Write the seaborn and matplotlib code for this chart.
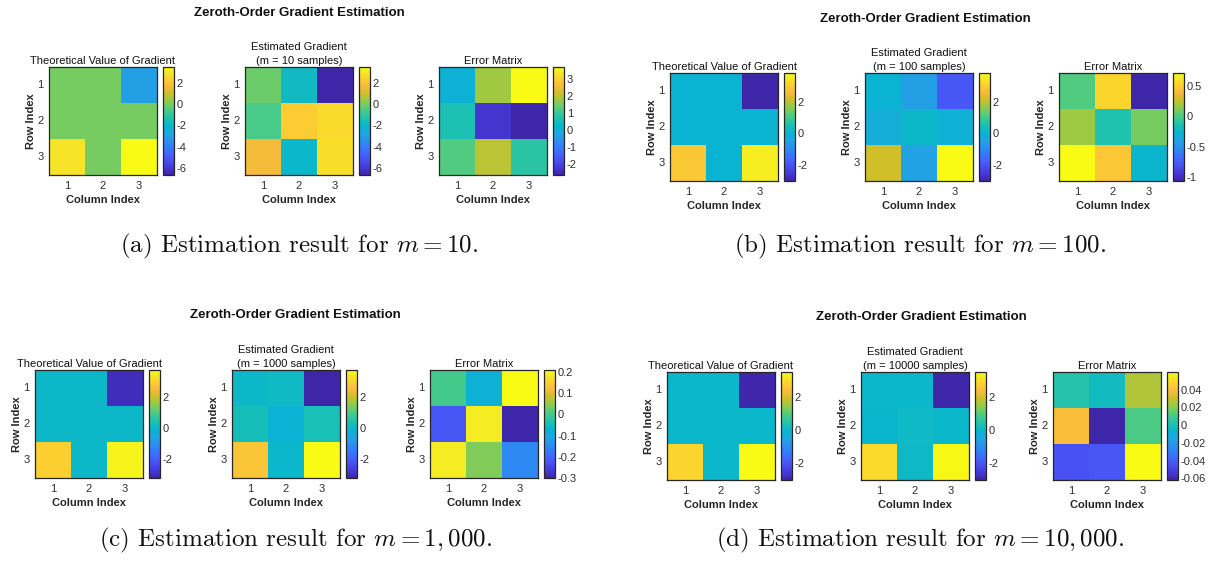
import numpy as np
import pandas as pd
import matplotlib
matplotlib.use("Agg")
import matplotlib.pyplot as plt
from matplotlib.colors import LinearSegmentedColormap
from matplotlib.ticker import FormatStrFormatter
import seaborn as sns

# In[] data
rows = [1, 2, 3]
cols = [1, 2, 3]

theory = [[0.0, 0.0, -3.0],
          [0.0, 0.0, 0.0],
          [2.9, 0.0, 3.55]]

est_m10 = [[-0.1, -1.8, -6.7],
           [-0.6, 2.3, 2.65],
           [1.7, -2.0, 2.75]]
est_m100 = [[-0.02, -0.55, -1.93],
            [-0.18, 0.14, -0.1],
            [2.18, -0.47, 3.81]]
est_m1000 = [[0.0, 0.08, -3.21],
             [0.22, -0.19, 0.3],
             [2.71, -0.04, 3.70]]
est_m10000 = [[-0.003, 0.003, -3.026],
              [-0.04, 0.062, -0.011],
              [2.945, 0.043, 3.49]]

sample_sizes = [10, 100, 1000, 10000]
panel_letters = ["a", "b", "c", "d"]
caption_m = ["10", "100", "1,000", "10,000"]

grad_ticks = [[-6, -4, -2, 0, 2], [-2, 0, 2], [-2, 0, 2], [-2, 0, 2]]
err_ticks = [[-2, -1, 0, 1, 2, 3],
             [-1, -0.5, 0, 0.5],
             [-0.3, -0.2, -0.1, 0, 0.1, 0.2],
             [-0.06, -0.04, -0.02, 0, 0.02, 0.04]]

# MATLAB parula, approximated from a few anchors
parula_anchors = [(0.2422, 0.1504, 0.6603), (0.2706, 0.2147, 0.8364),
                  (0.2813, 0.3006, 0.9414), (0.2699, 0.3892, 0.9906),
                  (0.1963, 0.4847, 0.9892), (0.1687, 0.5703, 0.9359),
                  (0.1248, 0.6459, 0.8883), (0.0297, 0.7082, 0.8163),
                  (0.0964, 0.7500, 0.7120), (0.2161, 0.7843, 0.5923),
                  (0.3909, 0.8029, 0.4354), (0.6174, 0.7876, 0.2612),
                  (0.8203, 0.7498, 0.1535), (0.9728, 0.7298, 0.2394),
                  (0.9892, 0.8136, 0.1885), (0.9597, 0.9135, 0.1423),
                  (0.9769, 0.9839, 0.0805)]
anchor_pos = [i * 4 / 63 for i in range(16)] + [1.0]
parula = LinearSegmentedColormap.from_list("parula", list(zip(anchor_pos, parula_anchors)))

# In[] style
sns.set_style("white")
plt.rcParams['font.family'] = ['Liberation Sans', 'DejaVu Sans']
plt.rcParams['axes.unicode_minus'] = False
plt.rcParams['mathtext.fontset'] = 'cm'

W, H = 1214, 561
fig = plt.figure(figsize=(W / 100, H / 100), dpi=100)
fig.patch.set_facecolor("white")

# layout in pixels
hm_left = [[49, 245, 439], [670, 865, 1059], [35, 232, 430], [667, 861, 1053]]
hm_top = [67, 73, 370, 372]
title_xy = [(299, 13), (925, 19), (295, 315), (921, 317)]
caption_xy = [(299, 246), (920, 246), (296, 540), (920, 540)]
HM = 108
TXT = '#303030'
FS = 8


def px_axes(x, y, w, h):
    return fig.add_axes([x / W, 1 - (y + h) / H, w / W, h / H])


def draw_heatmap(x, y, data, vmin, vmax, ticks, title):
    ax = px_axes(x, y, HM, HM)
    cax = px_axes(x + 114, y, 11, HM)
    df = pd.DataFrame(data, index=rows, columns=cols)
    sns.heatmap(df, ax=ax, cmap=parula, vmin=vmin, vmax=vmax, cbar_ax=cax,
                xticklabels=cols, yticklabels=rows)
    for sp in ax.spines.values():
        sp.set_visible(True)
        sp.set_color('#262626')
        sp.set_linewidth(0.9)
    ax.tick_params(direction='in', length=2.5, top=True, right=True,
                   labelsize=FS, labelcolor=TXT, color='#262626', pad=4)
    ax.set_yticklabels(rows, rotation=0)
    ax.set_xticklabels(cols, rotation=0)
    ax.set_title(title, fontsize=FS, color='#111111', pad=2, linespacing=1.5)
    ax.set_xlabel("Column Index", fontsize=FS, fontweight='bold', color='#262626', labelpad=3)
    ax.set_ylabel("Row Index", fontsize=FS, fontweight='bold', color='#262626', labelpad=1)
    cax.set_yticks(ticks)
    cax.yaxis.set_major_formatter(FormatStrFormatter('%g'))
    cax.tick_params(direction='in', length=2.5, labelsize=FS, labelcolor=TXT,
                    color='#262626', pad=2)
    cbar = ax.collections[0].colorbar
    cbar.outline.set_edgecolor('#262626')
    cbar.outline.set_linewidth(0.9)


estimates = [est_m10, est_m100, est_m1000, est_m10000]
theory_arr = np.array(theory)

for k in range(4):
    est = np.array(estimates[k])
    err = theory_arr - est
    gmin = min(theory_arr.min(), est.min())
    gmax = max(theory_arr.max(), est.max())
    lx = hm_left[k]
    ty = hm_top[k]
    draw_heatmap(lx[0], ty, theory_arr, gmin, gmax, grad_ticks[k],
                 "Theoretical Value of Gradient")
    draw_heatmap(lx[1], ty, est, gmin, gmax, grad_ticks[k],
                 f"Estimated Gradient\n(m = {sample_sizes[k]} samples)")
    draw_heatmap(lx[2], ty, err, err.min(), err.max(), err_ticks[k],
                 "Error Matrix")

    tx, tyy = title_xy[k]
    fig.text(tx / W, 1 - tyy / H, "Zeroth-Order Gradient Estimation",
             ha='center', va='center', fontsize=9.5, fontweight='bold', color='#111111')
    cx, cy = caption_xy[k]
    fig.text(cx / W, 1 - cy / H,
             f"({panel_letters[k]}) Estimation result for $m = {caption_m[k]}$.",
             ha='center', va='center', fontsize=18, family='cmr10', color='#111111')

plt.savefig("out.png", dpi=100, facecolor="white")
